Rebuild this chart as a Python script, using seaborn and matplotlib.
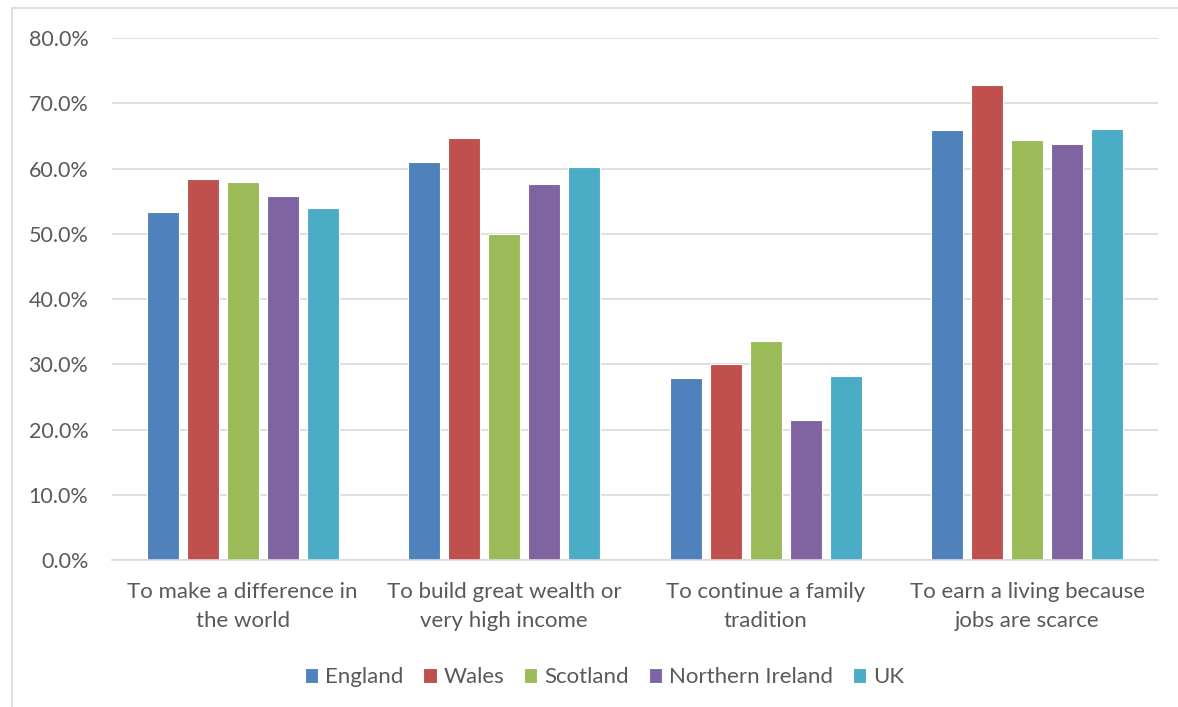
import matplotlib
matplotlib.use("Agg")
import matplotlib.pyplot as plt
import matplotlib.patches as mpatches
import seaborn as sns
import pandas as pd
from matplotlib.ticker import PercentFormatter, MultipleLocator

categories = [
    "To make a difference in\nthe world",
    "To build great wealth or\nvery high income",
    "To continue a family\ntradition",
    "To earn a living because\njobs are scarce",
]
regions = ["England", "Wales", "Scotland", "Northern Ireland", "UK"]
england = [53.3, 61.0, 27.9, 65.9]
wales = [58.4, 64.7, 30.1, 72.8]
scotland = [58.0, 50.0, 33.6, 64.4]
northern_ireland = [55.8, 57.6, 21.5, 63.7]
uk = [54.0, 60.3, 28.2, 66.1]
colors = ["#4F81BD", "#C0504D", "#9BBB59", "#8064A2", "#4BACC6"]

series = [england, wales, scotland, northern_ireland, uk]
rows = []
for reg, vals in zip(regions, series):
    for cat, v in zip(categories, vals):
        rows.append({"category": cat, "region": reg, "value": v / 100.0})
df = pd.DataFrame(rows)

sns.set_theme(style="white")
plt.rcParams["font.family"] = ["Lato", "DejaVu Sans"]
text_color = "#595959"

fig = plt.figure(figsize=(11.78, 7.07), dpi=100)
ax = fig.add_axes([0.095, 0.208, 0.888, 0.738])

sns.barplot(data=df, x="category", y="value", hue="region", order=categories,
            hue_order=regions, palette=colors, saturation=1, width=0.765, gap=0.2,
            edgecolor="white", linewidth=0.8, ax=ax, legend=True)

ax.set_ylim(0, 0.8)
ax.yaxis.set_major_locator(MultipleLocator(0.1))
ax.yaxis.set_major_formatter(PercentFormatter(xmax=1.0, decimals=1))
ax.grid(axis="y", color="#D9D9D9", linewidth=1.2)
ax.set_axisbelow(True)
for s in ["left", "right", "top"]:
    ax.spines[s].set_visible(False)
ax.spines["bottom"].set_color("#D9D9D9")
ax.spines["bottom"].set_linewidth(1.2)
ax.set_xlabel("")
ax.set_ylabel("")
ax.tick_params(axis="x", length=0, colors=text_color, labelsize=16, pad=16)
ax.tick_params(axis="y", length=0, colors=text_color, labelsize=15.5, pad=17)
for lbl in ax.get_xticklabels():
    lbl.set_linespacing(1.55)

handles, labels = ax.get_legend_handles_labels()
ax.legend_.remove()
fig.legend(handles, labels, loc="center", bbox_to_anchor=(0.513, 0.042), ncol=5,
           frameon=False, fontsize=16, handlelength=0.6, handleheight=0.6,
           handletextpad=0.3, columnspacing=0.9, labelcolor=text_color)

border = mpatches.Rectangle((12 / 1178, -0.01), 1.02, 1 - 8 / 707 + 0.01,
                            transform=fig.transFigure, fill=False,
                            edgecolor="#D9D9D9", linewidth=1.2)
fig.patches.append(border)

fig.savefig("out.png", dpi=100, facecolor="white")
